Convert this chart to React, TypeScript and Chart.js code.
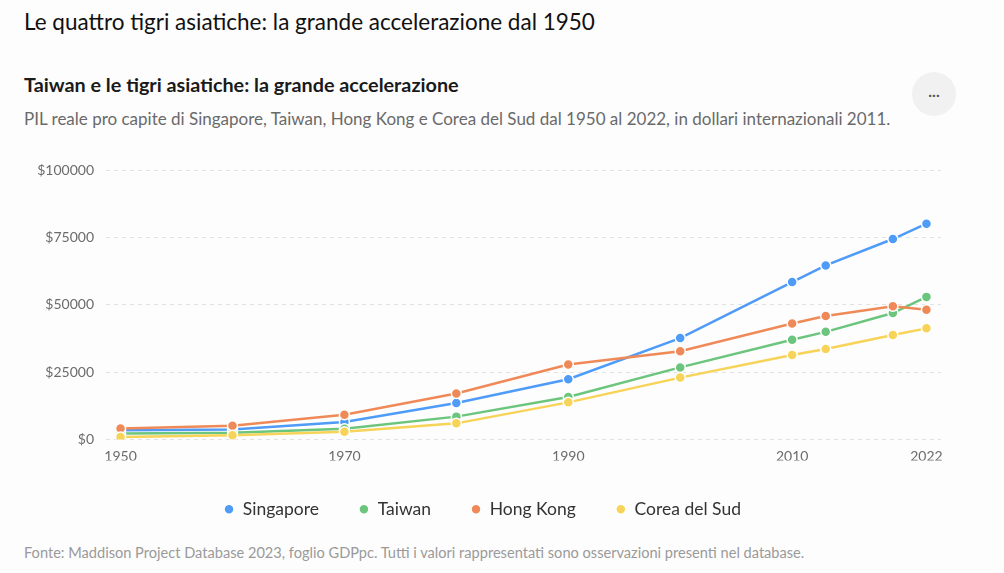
import { useEffect, useRef } from "react";
import { Chart, registerables } from "chart.js";

Chart.register(...registerables);

// Data (GDP per capita, 2011 int. $)
const years = [1950, 1960, 1970, 1980, 1990, 2000, 2010, 2013, 2019, 2022];
const singapore = [3400, 3700, 6500, 13600, 22400, 37700, 58500, 64700, 74500, 80200];
const taiwan = [2200, 2500, 4000, 8500, 15800, 26800, 37100, 40000, 47000, 53000];
const hongKong = [4100, 5100, 9200, 17100, 27900, 32800, 43100, 45900, 49500, 48200];
const southKorea = [900, 1600, 2900, 6000, 13800, 23000, 31400, 33600, 38800, 41300];
const xTicks = [1950, 1970, 1990, 2010, 2022];
const yTicks = [0, 25000, 50000, 75000, 100000];

const FONT = "Lato, 'Noto Sans', sans-serif";

const series = [
  { label: "Singapore", values: singapore, color: "#4e9bf8" },
  { label: "Taiwan", values: taiwan, color: "#6cc57c" },
  { label: "Hong Kong", values: hongKong, color: "#ef8a58" },
  { label: "Corea del Sud", values: southKorea, color: "#f7d358" },
];

export default function App() {
  const canvasRef = useRef<HTMLCanvasElement | null>(null);

  useEffect(() => {
    document.body.style.margin = "0";
    if (!canvasRef.current) return;

    const chart = new Chart(canvasRef.current, {
      type: "line",
      data: {
        datasets: series.map((s, idx) => ({
          label: s.label,
          data: years.map((y, i) => ({ x: y, y: s.values[i] })),
          // later series are painted over earlier ones
          order: series.length - idx,
          borderColor: s.color,
          backgroundColor: s.color,
          borderWidth: 2.5,
          pointRadius: 5,
          pointBorderColor: "#ffffff",
          pointBorderWidth: 1.5,
          pointBackgroundColor: s.color,
          tension: 0,
        })),
      },
      options: {
        animation: false,
        responsive: false,
        layout: { padding: { top: 16, right: 13, left: 0, bottom: 0 } },
        plugins: {
          legend: {
            position: "bottom",
            labels: {
              usePointStyle: true,
              pointStyle: "circle",
              boxHeight: 7,
              pointStyleWidth: 10,
              padding: 40,
              color: "#333333",
              font: { family: FONT, size: 17.5 },
              sort: (a, b) => (a.datasetIndex ?? 0) - (b.datasetIndex ?? 0),
            },
          },
          tooltip: { enabled: false },
        },
        scales: {
          x: {
            type: "linear",
            min: 1948.7,
            max: 2023.3,
            afterBuildTicks: (scale) => {
              scale.ticks = xTicks.map((v) => ({ value: v }));
            },
            afterFit: (scale) => {
              scale.height = 21;
            },
            grid: { display: false, drawTicks: false },
            border: { display: false },
            ticks: {
              padding: 9,
              color: "#6b6b6b",
              autoSkip: false,
              maxRotation: 0,
              font: { family: FONT, size: 14 },
              callback: (v) => String(v),
            },
          },
          y: {
            min: 0,
            max: 100000,
            afterBuildTicks: (scale) => {
              scale.ticks = yTicks.map((v) => ({ value: v }));
            },
            afterFit: (scale) => {
              scale.width = 82;
            },
            grid: { color: "#e2e2e2", drawTicks: false, lineWidth: 1 },
            border: { display: false, dash: [4, 4] },
            ticks: {
              padding: 12,
              color: "#6b6b6b",
              font: { family: FONT, size: 14 },
              callback: (v) => "$" + v,
            },
          },
        },
      },
    });

    return () => chart.destroy();
  }, []);

  return (
    <div
      style={{
        position: "relative",
        width: 1004,
        height: 573,
        background: "#fdfdfd",
        fontFamily: FONT,
        overflow: "hidden",
      }}
    >
      <div style={{ position: "absolute", left: 24, top: 7, fontSize: 22.5, color: "#111", lineHeight: "30px" }}>
        Le quattro tigri asiatiche: la grande accelerazione dal 1950
      </div>
      <div
        style={{ position: "absolute", left: 24, top: 71, fontSize: 19.8, fontWeight: 700, color: "#1a1a1a", lineHeight: "26px" }}
      >
        Taiwan e le tigri asiatiche: la grande accelerazione
      </div>
      <div style={{ position: "absolute", left: 24, top: 107, fontSize: 17, color: "#6a6a6a", lineHeight: "24px" }}>
        PIL reale pro capite di Singapore, Taiwan, Hong Kong e Corea del Sud dal 1950 al 2022, in dollari internazionali 2011.
      </div>
      <div
        style={{
          position: "absolute",
          left: 912,
          top: 72,
          width: 44,
          height: 44,
          borderRadius: 22,
          background: "#f1f1f1",
          color: "#555",
          fontSize: 16,
          fontWeight: 700,
          textAlign: "center",
          lineHeight: "38px",
        }}
      >
        ...
      </div>
      <canvas
        ref={canvasRef}
        width={930}
        height={378}
        style={{ position: "absolute", left: 24, top: 150, width: 930, height: 378 }}
      />
      <div style={{ position: "absolute", left: 24, top: 543, fontSize: 14.6, color: "#9a9a9a", lineHeight: "20px" }}>
        Fonte: Maddison Project Database 2023, foglio GDPpc. Tutti i valori rappresentati sono osservazioni presenti nel
        database.
      </div>
    </div>
  );
}
